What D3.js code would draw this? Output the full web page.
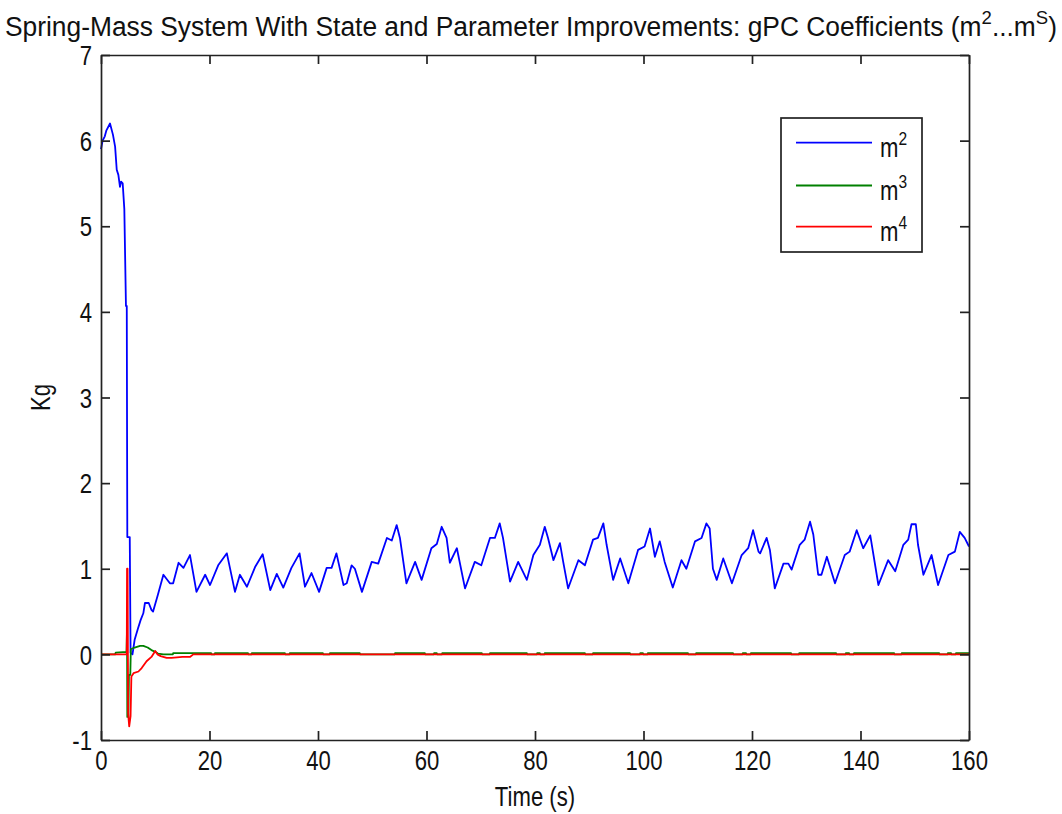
<!DOCTYPE html>
<html>
<head>
<meta charset="utf-8">
<script src="https://cdn.jsdelivr.net/npm/d3@7"></script>
<style>
  html, body { margin: 0; padding: 0; background: #fff; }
  svg { display: block; }
  text { font-family: "Liberation Sans", Arial, Helvetica, sans-serif; fill: #111; }
</style>
</head>
<body>
<svg id="chart" width="1062" height="814"></svg>
<script>
// ---------------- data ----------------
const xTicks = [0, 20, 40, 60, 80, 100, 120, 140, 160];
const yTicks = [-1, 0, 1, 2, 3, 4, 5, 6, 7];
const seriesNames = ["2", "3", "4"];           // superscripts of m
const seriesColors = ["#0000ff", "#008000", "#ff0000"];

// m^2 coefficient [time (s), value (Kg)]
const m2Series = [
  [0, 5.9], [0.3, 6.0], [0.7, 6.05], [1.0, 6.12], [1.66, 6.2], [2.2, 6.07], [2.6, 5.93],
  [2.9, 5.66], [3.2, 5.6], [3.5, 5.46], [3.7, 5.52], [4.0, 5.5], [4.3, 5.2], [4.6, 4.07],
  [4.75, 4.07], [4.85, 1.37], [5.3, 1.37], [5.45, 0.02], [5.8, 0.0], [6.2, 0.17], [6.8, 0.3],
  [7.3, 0.4], [7.8, 0.48], [8.1, 0.6], [8.8, 0.6], [9.3, 0.52], [9.6, 0.5], [10.5, 0.7],
  [11.5, 0.93], [12.7, 0.83], [13.3, 0.83], [14.3, 1.07], [15.2, 1.01], [16.4, 1.16],
  [17.6, 0.73], [19.2, 0.93], [20.1, 0.81], [21.6, 1.04], [23.2, 1.18], [24.7, 0.73],
  [25.6, 0.93], [26.9, 0.79], [28.4, 1.02], [29.8, 1.17], [31.2, 0.75], [32.4, 0.94],
  [33.6, 0.78], [35.1, 1.01], [36.6, 1.18], [37.6, 0.79], [38.8, 0.95], [40.2, 0.73],
  [41.6, 1.01], [42.5, 1.01], [43.4, 1.18], [44.7, 0.81], [45.3, 0.83], [46.2, 1.04],
  [46.8, 1.0], [48.1, 0.73], [49.9, 1.08], [51.1, 1.06], [52.7, 1.36], [53.6, 1.33],
  [54.5, 1.51], [55.1, 1.36], [56.3, 0.83], [57.9, 1.08], [59.1, 0.87], [60.9, 1.24],
  [61.9, 1.29], [62.8, 1.49], [63.7, 1.36], [64.3, 1.07], [65.6, 1.24], [67.1, 0.77],
  [68.9, 1.08], [70.1, 1.04], [71.7, 1.36], [72.6, 1.36], [73.5, 1.53], [74.1, 1.36],
  [75.4, 0.85], [76.9, 1.08], [78.5, 0.87], [79.7, 1.16], [80.9, 1.28], [81.8, 1.49],
  [82.4, 1.36], [83.4, 1.10], [84.6, 1.30], [85.2, 1.08], [86.1, 0.77], [88.0, 1.10],
  [89.2, 1.04], [90.7, 1.34], [91.6, 1.36], [92.6, 1.53], [93.2, 1.28], [94.4, 0.87],
  [95.7, 1.12], [97.2, 0.83], [99.0, 1.22], [100.2, 1.26], [101.2, 1.47], [102.1, 1.14],
  [103.0, 1.32], [103.9, 1.08], [105.4, 0.78], [107.0, 1.10], [107.9, 1.0], [109.5, 1.32],
  [110.7, 1.36], [111.6, 1.53], [112.2, 1.47], [112.8, 1.0], [113.5, 0.87], [114.7, 1.12],
  [116.3, 0.83], [118.1, 1.16], [119.3, 1.24], [120.2, 1.45], [121.2, 1.20], [121.5, 1.18],
  [122.7, 1.36], [123.3, 1.22], [124.2, 0.77], [125.8, 1.06], [126.7, 1.06], [127.3, 0.99],
  [128.8, 1.28], [129.7, 1.34], [130.7, 1.55], [131.3, 1.40], [132.2, 0.93], [132.8, 0.93],
  [133.8, 1.14], [135.3, 0.83], [137.1, 1.16], [138.0, 1.20], [139.3, 1.45], [140.5, 1.24],
  [141.8, 1.39], [143.3, 0.81], [145.1, 1.10], [146.4, 0.97], [147.9, 1.28], [148.8, 1.34],
  [149.4, 1.52], [150.2, 1.52], [150.6, 1.28], [151.6, 0.93], [153.1, 1.16], [154.3, 0.81],
  [156.2, 1.16], [157.4, 1.20], [158.3, 1.43], [159.2, 1.36], [160, 1.26]
];

// m^3 coefficient: transient, then a tiny offset that shows as green dashes above the red line
const m3Transient = [
  [0, 0], [2.6, 0], [2.7, 0.02], [4.7, 0.03], [4.8, 0.3], [4.85, -0.73], [5.05, -0.73],
  [5.15, -0.24], [5.4, -0.24], [5.5, 0.06], [6.2, 0.08], [7.2, 0.1], [7.8, 0.1], [8.6, 0.08],
  [9.3, 0.05], [10.0, 0.03], [10.5, 0.01], [11.5, 0], [13.2, 0]
];
const m3VisibleSpans = [
  [13.3, 20.3], [21.0, 27.1], [27.8, 33.9], [34.8, 40.9], [42.2, 47.7], [54.2, 59.7],
  [61.4, 61.9], [62.9, 70.2], [71.7, 78.5], [80.4, 80.9], [81.8, 89.2], [90.7, 97.5],
  [99.4, 99.9], [100.8, 108.2], [109.7, 116.5], [118.3, 118.9], [119.8, 127.2],
  [128.7, 135.5], [137.3, 137.9], [138.8, 146.2], [147.6, 154.5], [156.1, 156.7], [157.6, 160]
];
const m3Offset = 0.014;

// m^4 coefficient
const m4Series = [
  [0, 0], [4.75, 0], [4.8, 1.0], [4.9, 1.0], [5.0, -0.69], [5.2, -0.84], [5.45, -0.72],
  [5.6, -0.26], [6.0, -0.22], [6.9, -0.2], [7.5, -0.16], [8.4, -0.08], [9.3, -0.03],
  [10.0, 0.04], [10.4, 0.0], [11.0, -0.02], [12.1, -0.04], [13, -0.04], [15, -0.03],
  [16.4, -0.03], [17, 0], [160, 0]
];

// build m^3 table from transient + spans
const m3Series = m3Transient.slice();
m3VisibleSpans.forEach(([a, b]) => {
  m3Series.push([a - 0.05, 0], [a, m3Offset], [b, m3Offset], [Math.min(b + 0.05, 160), 0]);
});

// ---------------- layout ----------------
const L = 101, R = 969, T = 55, B = 740;
const svg = d3.select("#chart");
const x = d3.scaleLinear().domain([0, 160]).range([L, R]);
const y = d3.scaleLinear().domain([-1, 7]).range([B, T]);
const SX = 0.82;     // narrow font look
const FS = 27;
const axisColor = "#222";
const fmt = d => String(d);

// ---------------- lines ----------------
const line = d3.line().x(d => x(d[0])).y(d => y(d[1]));
const plotG = svg.append("g");
[m2Series, m3Series, m4Series].forEach((s, i) => {
  plotG.append("path").datum(s)
    .attr("d", line)
    .attr("fill", "none")
    .attr("stroke", seriesColors[i])
    .attr("stroke-width", 1.8)
    .attr("stroke-linejoin", "round");
});

// ---------------- axes ----------------
const tk = 9;
function styleAxis(g) {
  g.selectAll("path.domain").attr("stroke", axisColor).attr("stroke-width", 1.7);
  g.selectAll(".tick line").attr("stroke", axisColor).attr("stroke-width", 1.7);
}
const gx = svg.append("g").attr("transform", `translate(0,${B})`)
  .call(d3.axisBottom(x).tickValues(xTicks).tickFormat(fmt).tickSizeInner(-tk).tickSizeOuter(0).tickPadding(11));
styleAxis(gx);
gx.selectAll("text").attr("font-size", FS).attr("fill", "#111")
  .attr("font-family", '"Liberation Sans", Arial, sans-serif')
  .attr("transform", `scale(${SX},1)`);

const gxt = svg.append("g").attr("transform", `translate(0,${T})`)
  .call(d3.axisTop(x).tickValues(xTicks).tickSizeInner(-tk).tickSizeOuter(0).tickFormat(""));
styleAxis(gxt);

const gy = svg.append("g").attr("transform", `translate(${L},0)`)
  .call(d3.axisLeft(y).tickValues(yTicks).tickFormat(fmt).tickSizeInner(-tk).tickSizeOuter(0).tickPadding(9));
styleAxis(gy);
gy.selectAll("text").attr("font-size", FS).attr("fill", "#111")
  .attr("font-family", '"Liberation Sans", Arial, sans-serif')
  .attr("x", -9 / SX).attr("dy", "0.36em")
  .attr("transform", `scale(${SX},1)`);

const gyr = svg.append("g").attr("transform", `translate(${R},0)`)
  .call(d3.axisRight(y).tickValues(yTicks).tickSizeInner(-tk).tickSizeOuter(0).tickFormat(""));
styleAxis(gyr);

// ---------------- labels ----------------
const title = svg.append("text")
  .attr("x", 5).attr("y", 36)
  .attr("font-size", FS)
  .attr("textLength", 1052).attr("lengthAdjust", "spacingAndGlyphs");
title.append("tspan").text("Spring-Mass System With State and Parameter Improvements: gPC Coefficients (m");
title.append("tspan").attr("dy", -12).attr("font-size", 19).text("2");
title.append("tspan").attr("dy", 12).text("...m");
title.append("tspan").attr("dy", -12).attr("font-size", 19).text("S");
title.append("tspan").attr("dy", 12).text(")");

svg.append("g").attr("transform", `translate(${(L + R) / 2},806)`)
  .append("text").attr("text-anchor", "middle").attr("font-size", FS)
  .attr("transform", `scale(${SX},1)`).text("Time (s)");

svg.append("g").attr("transform", `translate(50,${(T + B) / 2}) rotate(-90)`)
  .append("text").attr("text-anchor", "middle").attr("font-size", FS)
  .attr("transform", `scale(${SX},1)`).text("Kg");

// ---------------- legend ----------------
const lg = svg.append("g");
lg.append("rect").attr("x", 781).attr("y", 118).attr("width", 141).attr("height", 134)
  .attr("fill", "#fff").attr("stroke", axisColor).attr("stroke-width", 1.7);
const rowY = [142.7, 185.5, 226.7];
seriesNames.forEach((n, i) => {
  lg.append("line").attr("x1", 796).attr("x2", 872).attr("y1", rowY[i]).attr("y2", rowY[i])
    .attr("stroke", seriesColors[i]).attr("stroke-width", 1.8);
  const t = lg.append("g").attr("transform", `translate(880,${rowY[i] + 14})`)
    .append("text").attr("font-size", FS).attr("transform", `scale(${SX},1)`);
  t.append("tspan").text("m");
  t.append("tspan").attr("dy", -12).attr("font-size", 19).text(n);
});
</script>
</body>
</html>
